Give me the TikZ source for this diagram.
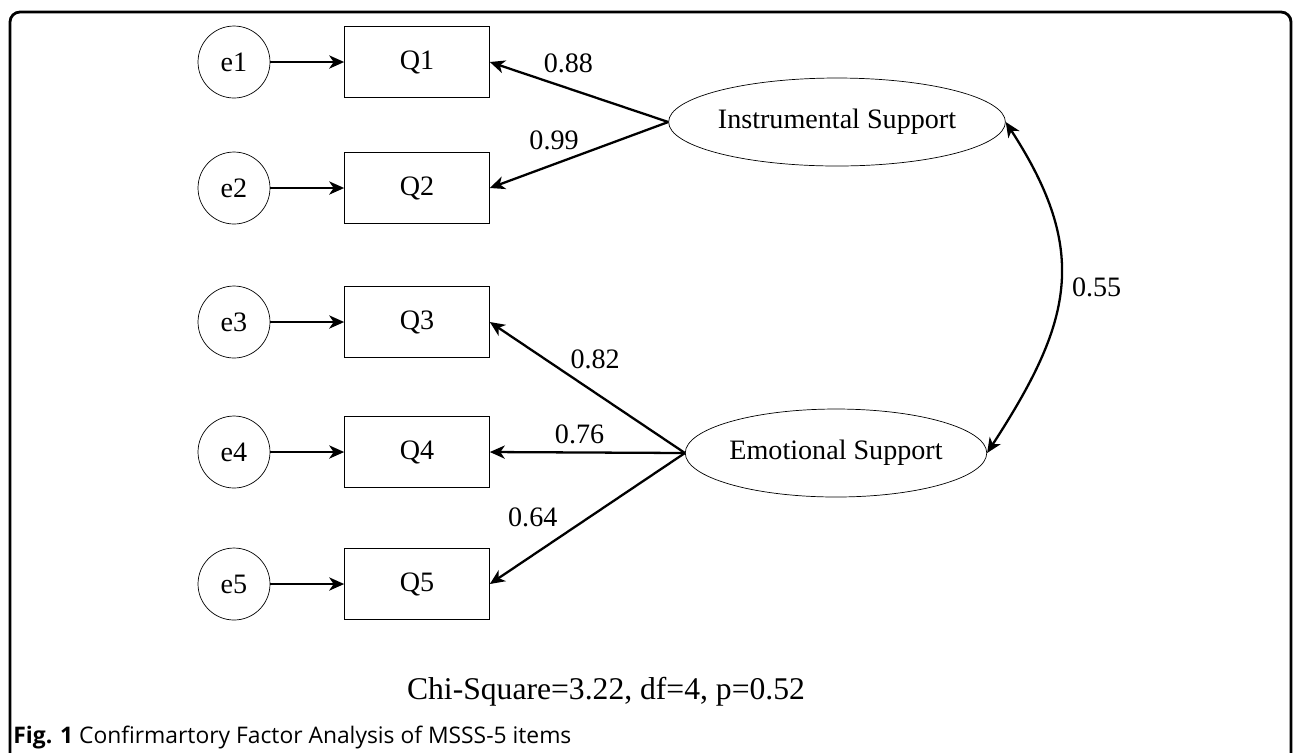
\documentclass[tikz,border=0pt]{standalone}
\usepackage{fontspec}
\setmainfont{Liberation Serif}
\newfontfamily\capfont{Open Sans}
\usetikzlibrary{arrows.meta,positioning,shapes.geometric}
\tikzset{lblfont/.style={font=\fontsize{16}{19}\selectfont}}
\tikzset{errnode/.style={draw, circle, thin, minimum size=1.44cm, inner sep=0pt, lblfont}}
\tikzset{itembox/.style={draw, rectangle, thin, minimum width=2.9cm, minimum height=1.42cm, inner sep=0pt, lblfont}}
\tikzset{factor/.style={draw, ellipse, thin, minimum width=5.92cm, minimum height=1.76cm, inner sep=0pt, lblfont}}
\tikzset{
  tipsem/.tip={Stealth[length=8.5pt, width=7.5pt, inset=2.5pt]},
  edgeerr/.style={black, line width=1.3pt, -tipsem},
  edgeload/.style={black, line width=1.3pt, -tipsem},
  edgecov/.style={black, line width=1.3pt, tipsem-tipsem},
  loadlbl/.style={lblfont, inner sep=0pt}
}

\begin{document}
\begin{tikzpicture}[x=0.02cm, y=-0.02cm]
\useasboundingbox (0,0) rectangle (1293,752);
\begin{scope}
\clip (0,0) rectangle (1293,752);
\draw[line width=1.6pt, rounded corners=0.2cm] (10,12) rectangle (1291,800);
\end{scope}
% error terms and items
\node[errnode] (e1) at (234,62) {e1};
\node[errnode] (e2) at (234,188) {e2};
\node[errnode] (e3) at (234,322) {e3};
\node[errnode] (e4) at (234,452) {e4};
\node[errnode] (e5) at (234,584) {e5};
\node[itembox] (q1) at (417,62) {Q1};
\node[itembox] (q2) at (417,188) {Q2};
\node[itembox] (q3) at (417,322) {Q3};
\node[itembox] (q4) at (417,452) {Q4};
\node[itembox] (q5) at (417,584) {Q5};
% latent factors
\node[factor] (inst) at (837,122) {Instrumental Support};
\node[factor] (emo) at (836,453) {Emotional Support};
\foreach \i in {1,...,5}
  \draw[edgeerr] (e\i) -- (q\i);
\draw[edgeload] (inst.west) -- node[loadlbl, pos=0.56, yshift=0.5cm] {0.88} (q1.east);
\draw[edgeload] (inst.west) -- node[loadlbl, pos=0.64, yshift=0.48cm] {0.99} (q2.east);
\draw[edgeload] (emo.west) -- node[loadlbl, pos=0.46, yshift=0.66cm] {0.82} (q3.east);
\draw[edgeload] (emo.west) -- node[loadlbl, pos=0.54, yshift=0.36cm] {0.76} (q4.east);
\draw[edgeload] (emo.west) -- node[loadlbl, pos=0.78, yshift=0.76cm] {0.64} (q5.east);
\draw[edgecov] (inst.east) to[out=-57, in=57, looseness=1.2] node[loadlbl, right, xshift=0.22cm] {0.55} (emo.east);
% fit and caption
\node[font=\fontsize{18}{21}\selectfont, inner sep=0pt] (fit) at (606,692) {Chi-Square=3.22, df=4, p=0.52};
\node[font=\capfont\fontsize{13}{15}\selectfont, anchor=base west, inner sep=0pt] (cap) at (13,743) {\textbf{Fig. 1} Confirmartory Factor Analysis of MSSS-5 items};
\end{tikzpicture}
\end{document}
